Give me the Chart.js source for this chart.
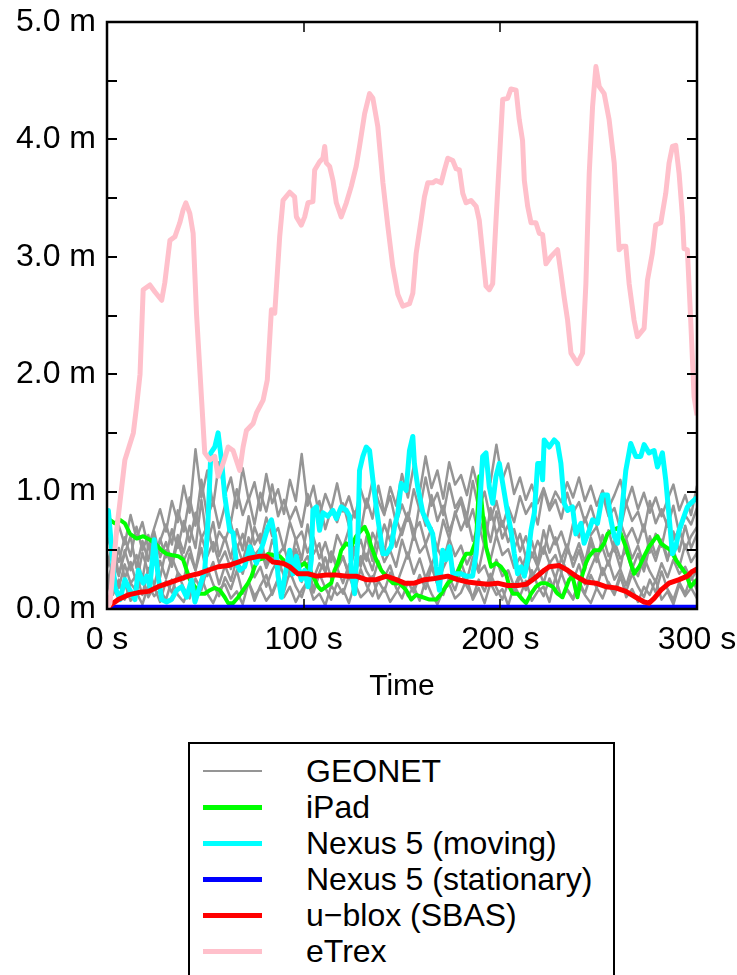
<!DOCTYPE html>
<html>
<head>
<meta charset="utf-8">
<script src="https://cdn.jsdelivr.net/npm/chart.js@4.4.1/dist/chart.umd.min.js"></script>
<style>
  html, body { margin: 0; padding: 0; background: #fff; overflow: hidden; }
  body { width: 737px; height: 975px; position: relative; font-family: "Liberation Sans", Arial, sans-serif; }
  #chart { display: block; }
  #legend { position: absolute; left: 188px; top: 742px; width: 427px; height: 260px; border: 2px solid #000; box-sizing: border-box; }
  .item { position: absolute; left: 0; width: 100%; height: 36px; }
  .item .swatch { position: absolute; left: 13px; width: 59px; }
  .item span { position: absolute; left: 116px; top: 0; line-height: 36px; font-size: 32px; color: #000; white-space: nowrap; }
</style>
</head>
<body>
<canvas id="chart" width="737" height="720"></canvas>
<div id="legend"></div>
<script>
// tick values
const xTickMarks = [100, 200];
const yTickMarks = [0.5, 1, 1.5, 2, 2.5, 3, 3.5, 4, 4.5];

// legend entries
const legendNames = ['GEONET', 'iPad', 'Nexus 5 (moving)', 'Nexus 5 (stationary)', 'u\u2212blox (SBAS)', 'eTrex'];
const legendColors = ['#959595', '#00ff00', '#00ffff', '#0000ff', '#ff0000', '#ffc0cb'];
const legendWidths = [2, 5, 5, 5, 5, 5];

// GEONET stations, one sample every 3 s
const geonetTime = [
  0, 3, 6, 9, 12, 15, 18, 21, 24, 27,
  30, 33, 36, 39, 42, 45, 48, 51, 54, 57,
  60, 63, 66, 69, 72, 75, 78, 81, 84, 87,
  90, 93, 96, 99, 102, 105, 108, 111, 114, 117,
  120, 123, 126, 129, 132, 135, 138, 141, 144, 147,
  150, 153, 156, 159, 162, 165, 168, 171, 174, 177,
  180, 183, 186, 189, 192, 195, 198, 201, 204, 207,
  210, 213, 216, 219, 222, 225, 228, 231, 234, 237,
  240, 243, 246, 249, 252, 255, 258, 261, 264, 267,
  270, 273, 276, 279, 282, 285, 288, 291, 294, 297,
  300];
const geonet1 = [
  0.62, 0.48, 0.71, 0.55, 0.80, 0.60, 0.74, 0.52, 0.69, 0.85,
  0.66, 0.92, 0.74, 1.05, 0.82, 1.36, 0.95, 1.18, 0.88, 1.25,
  0.97, 1.12, 0.86, 1.20, 0.93, 1.08, 0.84, 1.15, 0.90, 1.02,
  0.81, 1.10, 0.92, 1.32, 0.88, 1.05, 0.79, 0.98, 0.85, 1.07,
  0.83, 0.96, 0.78, 1.02, 0.86, 1.09, 0.92, 0.80, 1.04, 0.88,
  1.15, 0.95, 1.22, 0.99, 1.30, 1.03, 1.18, 0.94, 1.25, 1.06,
  1.14, 0.97, 1.21, 1.01, 1.28, 1.08, 1.40, 1.10, 1.24, 0.98,
  1.12, 0.93, 1.06, 0.90, 1.03, 0.87, 1.00, 0.91, 1.08, 0.95,
  1.12, 0.92, 1.05, 0.88, 1.01, 0.86, 0.97, 1.10, 0.89, 1.04,
  0.85, 0.99, 0.82, 0.95, 0.79, 0.93, 1.06, 0.84, 0.97, 0.80,
  1.05];
const geonet2 = [
  0.35, 0.52, 0.40, 0.61, 0.45, 0.70, 0.50, 0.63, 0.42, 0.58,
  0.72, 0.55, 0.84, 0.66, 0.95, 0.71, 1.10, 0.78, 0.92, 0.69,
  0.88, 0.74, 1.02, 0.80, 0.95, 0.72, 0.99, 0.83, 1.06, 0.79,
  0.93, 0.76, 0.87, 0.70, 0.98, 0.81, 0.92, 0.68, 0.85, 0.74,
  0.90, 0.71, 0.83, 0.66, 0.94, 0.77, 1.05, 0.82, 0.96, 0.73,
  0.89, 0.75, 1.02, 0.84, 1.12, 0.88, 0.99, 0.80, 1.07, 0.86,
  0.95, 0.78, 1.09, 0.85, 1.00, 0.76, 0.92, 0.70, 0.87, 0.74,
  0.96, 0.81, 0.90, 0.72, 1.02, 0.84, 0.93, 0.77, 0.99, 0.82,
  0.91, 0.74, 0.88, 0.71, 0.97, 0.79, 0.86, 0.68, 0.90, 0.75,
  0.83, 0.66, 0.92, 0.73, 0.85, 0.70, 0.88, 0.64, 0.80, 0.72,
  0.86];
const geonet3 = [
  0.20, 0.42, 0.28, 0.50, 0.33, 0.46, 0.25, 0.55, 0.38, 0.60,
  0.44, 0.68, 0.52, 0.75, 0.57, 0.82, 0.60, 0.71, 0.49, 0.66,
  0.58, 0.73, 0.51, 0.64, 0.45, 0.70, 0.56, 0.78, 0.62, 0.69,
  0.50, 0.74, 0.59, 0.66, 0.48, 0.61, 0.43, 0.57, 0.40, 0.63,
  0.52, 0.68, 0.46, 0.59, 0.41, 0.65, 0.54, 0.72, 0.58, 0.77,
  0.63, 0.81, 0.66, 0.74, 0.55, 0.69, 0.51, 0.76, 0.60, 0.83,
  0.67, 0.79, 0.58, 0.72, 0.53, 0.86, 0.64, 0.75, 0.57, 0.68,
  0.49, 0.62, 0.44, 0.58, 0.47, 0.71, 0.55, 0.66, 0.50, 0.73,
  0.61, 0.78, 0.63, 0.70, 0.52, 0.67, 0.49, 0.74, 0.60, 0.69,
  0.56, 0.72, 0.48, 0.64, 0.53, 0.76, 0.59, 0.68, 0.51, 0.62,
  0.70];
const geonet4 = [
  0.45, 0.30, 0.52, 0.26, 0.40, 0.22, 0.48, 0.31, 0.44, 0.27,
  0.50, 0.36, 0.58, 0.41, 0.53, 0.33, 0.62, 0.45, 0.57, 0.39,
  0.49, 0.34, 0.55, 0.40, 0.61, 0.46, 0.52, 0.35, 0.47, 0.30,
  0.42, 0.28, 0.51, 0.37, 0.45, 0.26, 0.39, 0.32, 0.48, 0.34,
  0.44, 0.29, 0.53, 0.38, 0.47, 0.33, 0.56, 0.40, 0.50, 0.36,
  0.59, 0.43, 0.64, 0.48, 0.55, 0.37, 0.52, 0.41, 0.60, 0.45,
  0.54, 0.38, 0.49, 0.33, 0.57, 0.42, 0.63, 0.46, 0.51, 0.35,
  0.44, 0.30, 0.48, 0.36, 0.53, 0.39, 0.46, 0.31, 0.50, 0.42,
  0.56, 0.40, 0.61, 0.45, 0.52, 0.37, 0.58, 0.43, 0.49, 0.34,
  0.47, 0.32, 0.54, 0.41, 0.59, 0.44, 0.50, 0.36, 0.55, 0.40,
  0.48];
const geonet5 = [
  0.15, 0.32, 0.18, 0.38, 0.22, 0.29, 0.12, 0.35, 0.20, 0.41,
  0.26, 0.44, 0.31, 0.25, 0.47, 0.33, 0.52, 0.28, 0.40, 0.21,
  0.37, 0.24, 0.43, 0.30, 0.49, 0.27, 0.36, 0.19, 0.33, 0.42,
  0.28, 0.46, 0.34, 0.23, 0.39, 0.17, 0.31, 0.44, 0.26, 0.35,
  0.22, 0.38, 0.29, 0.45, 0.32, 0.24, 0.41, 0.27, 0.37, 0.20,
  0.34, 0.48, 0.30, 0.43, 0.26, 0.39, 0.21, 0.35, 0.46, 0.29,
  0.40, 0.25, 0.44, 0.31, 0.37, 0.23, 0.42, 0.28, 0.33, 0.19,
  0.30, 0.45, 0.27, 0.36, 0.22, 0.40, 0.26, 0.43, 0.32, 0.24,
  0.38, 0.21, 0.35, 0.47, 0.29, 0.41, 0.25, 0.34, 0.20, 0.37,
  0.28, 0.44, 0.32, 0.23, 0.39, 0.27, 0.42, 0.30, 0.36, 0.25,
  0.33];
const geonet6 = [
  0.30, 0.12, 0.25, 0.08, 0.22, 0.15, 0.28, 0.10, 0.19, 0.06,
  0.24, 0.14, 0.31, 0.18, 0.09, 0.26, 0.16, 0.35, 0.21, 0.11,
  0.27, 0.17, 0.33, 0.13, 0.23, 0.07, 0.20, 0.29, 0.12, 0.25,
  0.15, 0.32, 0.19, 0.10, 0.26, 0.14, 0.30, 0.18, 0.08, 0.22,
  0.13, 0.28, 0.16, 0.34, 0.20, 0.11, 0.24, 0.15, 0.31, 0.18,
  0.09, 0.23, 0.14, 0.29, 0.17, 0.36, 0.21, 0.12, 0.27, 0.16,
  0.32, 0.19, 0.10, 0.25, 0.15, 0.30, 0.18, 0.08, 0.22, 0.13,
  0.28, 0.16, 0.33, 0.20, 0.11, 0.26, 0.14, 0.31, 0.17, 0.09,
  0.24, 0.13, 0.29, 0.18, 0.35, 0.21, 0.12, 0.27, 0.15, 0.30,
  0.19, 0.10, 0.25, 0.14, 0.32, 0.17, 0.08, 0.23, 0.13, 0.28,
  0.16];
const geonet7 = [
  0.05, 0.18, 0.09, 0.22, 0.07, 0.14, 0.04, 0.20, 0.11, 0.16,
  0.08, 0.25, 0.12, 0.06, 0.19, 0.10, 0.27, 0.13, 0.05, 0.17,
  0.21, 0.09, 0.15, 0.04, 0.23, 0.11, 0.18, 0.07, 0.14, 0.26,
  0.10, 0.19, 0.06, 0.16, 0.24, 0.08, 0.13, 0.03, 0.20, 0.12,
  0.17, 0.05, 0.22, 0.10, 0.15, 0.28, 0.09, 0.18, 0.06, 0.14,
  0.23, 0.11, 0.19, 0.07, 0.25, 0.13, 0.04, 0.16, 0.21, 0.09,
  0.14, 0.26, 0.08, 0.18, 0.05, 0.22, 0.12, 0.17, 0.03, 0.20,
  0.11, 0.24, 0.07, 0.15, 0.19, 0.06, 0.27, 0.10, 0.16, 0.08,
  0.21, 0.12, 0.05, 0.18, 0.09, 0.23, 0.14, 0.30, 0.10, 0.17,
  0.06, 0.19, 0.12, 0.25, 0.08, 0.15, 0.04, 0.21, 0.11, 0.18,
  0.09];
const geonet8 = [
  0.38, 0.55, 0.30, 0.47, 0.62, 0.35, 0.58, 0.41, 0.66, 0.44,
  0.57, 0.39, 0.63, 0.48, 0.71, 0.52, 0.93, 0.56, 0.74, 0.45,
  0.61, 0.43, 0.68, 0.50, 0.79, 0.55, 0.64, 0.37, 0.59, 0.46,
  0.53, 0.34, 0.60, 0.42, 0.72, 0.47, 0.56, 0.31, 0.49, 0.38,
  0.45, 0.29, 0.52, 0.36, 0.62, 0.41, 0.70, 0.48, 0.76, 0.53,
  0.68, 0.82, 0.59, 0.90, 0.71, 0.97, 0.75, 0.88, 0.66, 0.80,
  0.92, 0.70, 0.85, 0.63, 0.78, 0.57, 0.83, 0.60, 0.72, 0.51,
  0.64, 0.44, 0.58, 0.39, 0.67, 0.48, 0.61, 0.42, 0.55, 0.36,
  0.50, 0.33, 0.57, 0.40, 0.63, 0.45, 0.52, 0.35, 0.60, 0.43,
  0.54, 0.37, 0.62, 0.46, 0.58, 0.41, 0.66, 0.49, 0.71, 0.52,
  0.64];
const geonetSeries = [geonet1, geonet2, geonet3, geonet4, geonet5, geonet6, geonet7, geonet8];

// iPad
const ipadTime = [0, 1.5, 4, 6.6, 9.1, 11.7, 15.1, 18.4, 21.8, 24.4, 27.8, 30.3, 32.8, 36.2, 38.7, 40.5, 42.1, 44.7, 47.2, 49.7,
  52.3, 54.8, 57.4, 59.9, 61.6, 64.1, 66.7, 69.2, 71.7, 73.5, 75.1, 76.8, 79.4, 82, 84.4, 87.8, 89.5, 92, 94.6, 98,
  100.5, 103, 105.6, 107.3, 109, 111.5, 114, 115.7, 117.4, 119.1, 121.7, 124.2, 126.7, 129.3, 131, 132.6, 134.4, 136.9, 139.4, 142,
  145.3, 148.7, 152.1, 154.7, 157.2, 160.6, 164, 167.4, 169.9, 173.3, 177.5, 180.9, 182.6, 185.1, 187.7, 189.3, 191, 192.7, 195.3, 197.8,
  200.3, 202.9, 204.6, 206.3, 208.8, 211.3, 213.1, 215.6, 218.1, 220.7, 223.2, 226.6, 229.1, 231.6, 235, 236.7, 239.2, 241, 243.5, 245.2,
  247.7, 250.3, 252.8, 254.5, 257, 259.5, 261.3, 263.8, 266.3, 268, 270.6, 273.1, 275.6, 278.2, 279.9, 281.6, 284.1, 286.7, 289.2, 291.7,
  294.3, 296.8, 300];
const ipadValue = [0.78, 0.76, 0.73, 0.76, 0.73, 0.64, 0.60, 0.62, 0.59, 0.56, 0.50, 0.47, 0.46, 0.45, 0.42, 0.33, 0.25, 0.19, 0.13, 0.13,
  0.16, 0.18, 0.16, 0.10, 0.05, 0.05, 0.10, 0.16, 0.22, 0.28, 0.36, 0.42, 0.43, 0.47, 0.46, 0.45, 0.42, 0.36, 0.33, 0.36,
  0.39, 0.33, 0.25, 0.19, 0.16, 0.19, 0.22, 0.33, 0.39, 0.50, 0.56, 0.53, 0.62, 0.67, 0.70, 0.64, 0.53, 0.42, 0.33, 0.28,
  0.22, 0.22, 0.16, 0.08, 0.12, 0.10, 0.08, 0.08, 0.13, 0.22, 0.28, 0.42, 0.47, 0.47, 0.59, 1.13, 0.82, 0.53, 0.36, 0.39,
  0.36, 0.30, 0.19, 0.13, 0.13, 0.08, 0.05, 0.13, 0.19, 0.22, 0.22, 0.19, 0.13, 0.10, 0.25, 0.28, 0.10, 0.25, 0.39, 0.45,
  0.50, 0.50, 0.56, 0.64, 0.67, 0.69, 0.64, 0.53, 0.39, 0.30, 0.36, 0.45, 0.53, 0.59, 0.62, 0.56, 0.53, 0.50, 0.42, 0.36,
  0.30, 0.19, 0.25];

// Nexus 5 (moving)
const nexusMovingTime = [0, 0.7, 4, 6.6, 9.1, 11.7, 14.2, 15.9, 18.4, 20.2, 21.8, 24, 26, 27.8, 30.3, 32.8, 35.4, 37.9, 40.5, 43,
  44.7, 47.2, 49.7, 51.4, 52.8, 54.8, 56.5, 58.2, 59.9, 62.4, 64.1, 65.8, 67.5, 70, 72.6, 76, 79.4, 81.9, 83.6, 85.3,
  87, 88.7, 90.4, 92.9, 94.6, 96.3, 98.8, 100.5, 102.2, 103.9, 104.7, 106.5, 108.1, 109.8, 112.3, 114.9, 116.6, 119.1, 121.7, 123.4,
  124.2, 125.9, 127.6, 128.4, 130.1, 131.8, 133.5, 135.2, 136.9, 138.6, 140.3, 142, 144.5, 146.2, 147.9, 149.6, 152.1, 153.8, 155.5, 156.3,
  158, 160.6, 163.1, 165.6, 167.4, 169, 170.7, 172.4, 174.1, 175.8, 177.5, 180, 182.6, 185.9, 187.7, 189.3, 191, 192.7, 194.4, 196.1,
  197.8, 199.5, 201.2, 203.7, 205.4, 207.1, 208.8, 210.5, 212.2, 213.9, 215.6, 217.3, 219, 220.7, 221.5, 222.3, 224.9, 227.4, 229.1, 230.8,
  232.5, 234.2, 236.7, 238.4, 241, 242.6, 245.2, 246.9, 249.4, 251.9, 254.5, 256.2, 257.9, 259.6, 261.3, 263.8, 266.3, 268.9, 271.4, 273.1,
  275.6, 278.2, 279.9, 282.4, 284.1, 285.8, 287.5, 289.2, 290.9, 293.4, 295.1, 296.8, 300];
const nexusMovingValue = [0.84, 0.84, 0.19, 0.08, 0.25, 0.16, 0.08, 0.33, 0.22, 0.28, 0.19, 0.59, 0.28, 0.08, 0.06, 0.08, 0.16, 0.19, 0.10, 0.25,
  0.06, 0.19, 0.33, 0.76, 1.33, 1.38, 1.50, 1.27, 0.96, 0.67, 0.65, 0.39, 0.33, 0.36, 0.53, 0.39, 0.56, 0.70, 0.76, 0.62,
  0.28, 0.10, 0.28, 0.50, 0.30, 0.45, 0.25, 0.33, 0.19, 0.42, 0.84, 0.87, 0.67, 0.82, 0.79, 0.84, 0.77, 0.87, 0.84, 0.79,
  0.33, 0.13, 0.62, 1.18, 1.30, 1.38, 1.35, 1.10, 0.87, 0.67, 0.47, 0.47, 0.53, 0.70, 0.82, 1.07, 1.01, 1.35, 1.47, 1.24,
  1.04, 0.82, 0.73, 0.64, 0.36, 0.16, 0.50, 0.42, 0.53, 0.30, 0.30, 0.30, 0.28, 0.28, 0.47, 0.82, 1.30, 1.33, 1.04, 0.90,
  1.13, 1.24, 1.07, 0.82, 0.67, 0.47, 0.30, 0.36, 0.28, 0.42, 0.67, 0.82, 1.24, 1.24, 1.10, 1.44, 1.38, 1.44, 1.41, 1.24,
  0.90, 0.84, 0.87, 0.64, 0.73, 0.56, 0.67, 0.76, 0.73, 0.97, 0.97, 0.76, 0.62, 0.56, 0.76, 1.18, 1.41, 1.30, 1.30, 1.40,
  1.33, 1.35, 1.21, 1.33, 1.10, 0.79, 0.47, 0.53, 0.67, 0.79, 0.87, 0.90, 0.95];

// Nexus 5 (stationary)
const nexusStillTime = [0, 50, 100, 150, 200, 250, 300];
const nexusStillValue = [0.02, 0.02, 0.02, 0.02, 0.02, 0.02, 0.02];

// u-blox (SBAS)
const ubloxTime = [0, 1.5, 5.7, 10.8, 15.9, 21, 26, 31.1, 36.2, 41.3, 46.3, 51.4, 56.5, 61.6, 66.7, 71.7, 77.7, 81, 84.4, 89.5,
  92.9, 97.1, 102.2, 106.5, 111.5, 116.6, 121.7, 126.7, 131.8, 136.9, 142, 147.1, 151.3, 156.3, 161.4, 166.5, 173.3, 178.3, 183.4, 188.5,
  193.6, 198.6, 203.7, 208.8, 213.1, 217.3, 222.3, 224.9, 230, 234.2, 238.4, 243.5, 248.6, 253.6, 258.7, 263.8, 268.9, 273.1, 275.6, 278.2,
  281.6, 285.8, 290.9, 295.1, 297.6, 300];
const ubloxValue = [0.00, 0.03, 0.08, 0.12, 0.14, 0.15, 0.19, 0.22, 0.25, 0.28, 0.30, 0.33, 0.36, 0.37, 0.40, 0.43, 0.45, 0.45, 0.40, 0.39,
  0.36, 0.30, 0.30, 0.28, 0.29, 0.29, 0.28, 0.28, 0.25, 0.25, 0.28, 0.25, 0.22, 0.22, 0.25, 0.26, 0.28, 0.25, 0.23, 0.22,
  0.21, 0.22, 0.20, 0.20, 0.21, 0.26, 0.33, 0.36, 0.37, 0.33, 0.28, 0.23, 0.22, 0.19, 0.18, 0.15, 0.10, 0.06, 0.05, 0.09,
  0.16, 0.22, 0.25, 0.28, 0.32, 0.34];

// eTrex
const etrexTime = [0, 1.5, 4.9, 9.1, 13.4, 15, 16.8, 18.4, 21.8, 24.4, 27.8, 29.4, 32, 34.5, 37, 38.7, 40.1, 42.1, 43.8, 45.5,
  48, 49.7, 52.3, 54.8, 56.5, 59, 61.6, 64.1, 67.5, 69.2, 70.9, 74.3, 76, 79.4, 81.5, 83.6, 85.3, 87.8, 89.5, 92.9,
  95.4, 96.3, 98.8, 100.5, 102.2, 104.7, 105.6, 108.1, 109.8, 110.7, 111.5, 113.2, 114.9, 116.6, 119.1, 121.7, 124.2, 126.7, 128.4, 131,
  133.5, 135.2, 137.7, 140.3, 142.8, 145.3, 147.9, 150.4, 153.8, 155.5, 157.2, 159.7, 161.4, 163.1, 165.6, 167.3, 169.9, 171.6, 173.3, 175.8,
  177.5, 179.2, 180.9, 182.6, 185.1, 187.7, 189.3, 191, 192.7, 194.4, 196.1, 197.8, 199.5, 201.2, 203.7, 205.4, 208, 209.6, 211.3, 212.2,
  213.9, 215.6, 218.1, 219.8, 221.5, 223.2, 225.7, 229.1, 230.8, 232.5, 234.2, 235.9, 239.2, 241.8, 243.5, 245.2, 246.9, 248.6, 250.3, 252.8,
  255.3, 257.9, 260.4, 262.1, 263.8, 265.5, 268, 269.7, 273.1, 274.8, 277.3, 279, 281.6, 284.1, 285.8, 287.5, 289.2, 290.9, 292.6, 293.4,
  295.1, 296.8, 298.5, 300];
const etrexValue = [0.00, 0.05, 0.67, 1.27, 1.50, 1.72, 2.00, 2.72, 2.76, 2.70, 2.63, 2.78, 3.14, 3.17, 3.29, 3.40, 3.46, 3.37, 3.20, 2.52,
  1.81, 1.33, 1.27, 1.30, 1.13, 1.24, 1.38, 1.35, 1.18, 1.38, 1.52, 1.58, 1.67, 1.78, 1.95, 2.55, 2.52, 3.17, 3.48, 3.55,
  3.51, 3.34, 3.27, 3.34, 3.46, 3.47, 3.74, 3.81, 3.84, 3.94, 3.80, 3.77, 3.65, 3.46, 3.34, 3.46, 3.60, 3.77, 3.94, 4.22,
  4.39, 4.35, 4.11, 3.63, 3.26, 2.92, 2.68, 2.58, 2.60, 2.69, 3.03, 3.31, 3.51, 3.63, 3.63, 3.65, 3.63, 3.74, 3.84, 3.82,
  3.75, 3.74, 3.54, 3.46, 3.48, 3.43, 3.31, 3.03, 2.75, 2.72, 2.77, 3.31, 3.82, 4.34, 4.35, 4.43, 4.42, 4.17, 3.99, 3.65,
  3.43, 3.29, 3.29, 3.20, 3.19, 2.94, 3.00, 3.06, 2.86, 2.65, 2.46, 2.18, 2.09, 2.18, 2.77, 3.71, 4.28, 4.62, 4.45, 4.39,
  4.17, 3.80, 3.06, 3.09, 3.09, 2.77, 2.46, 2.32, 2.39, 2.80, 3.03, 3.27, 3.29, 3.54, 3.80, 3.94, 3.95, 3.71, 3.34, 3.07,
  3.06, 2.46, 1.81, 1.65];

const FONT = '"Liberation Sans", Arial, Helvetica, sans-serif';

function toPoints(times, values) {
  return times.map((t, i) => ({ x: t, y: values[i] }));
}

function lineSet(label, times, values, color, width, order) {
  return {
    label: label,
    data: toPoints(times, values),
    borderColor: color,
    backgroundColor: color,
    borderWidth: width,
    pointRadius: 0,
    tension: 0,
    fill: false,
    borderJoinStyle: 'round',
    order: order
  };
}

const datasets = [];
geonetSeries.forEach(vals => datasets.push(lineSet('GEONET', geonetTime, vals, legendColors[0], 2.5, 6)));
datasets.push(lineSet(legendNames[1], ipadTime, ipadValue, legendColors[1], 4, 5));
datasets.push(lineSet(legendNames[2], nexusMovingTime, nexusMovingValue, legendColors[2], 5, 4));
datasets.push(lineSet(legendNames[3], nexusStillTime, nexusStillValue, legendColors[3], 4, 3));
datasets.push(lineSet(legendNames[4], ubloxTime, ubloxValue, legendColors[4], 5, 2));
datasets.push(lineSet(legendNames[5], etrexTime, etrexValue, legendColors[5], 5, 1));

// frame with inward tick marks on all four sides
const frameMarks = {
  id: 'frameMarks',
  afterDatasetsDraw(chart) {
    const ctx = chart.ctx;
    const a = chart.chartArea;
    const x = chart.scales.x, y = chart.scales.y;
    ctx.save();
    ctx.strokeStyle = '#000';
    ctx.lineWidth = 2;
    ctx.beginPath();
    yTickMarks.forEach(v => {
      const py = Math.round(y.getPixelForValue(v));
      ctx.moveTo(a.left, py); ctx.lineTo(a.left + 10, py);
      ctx.moveTo(a.right - 10, py); ctx.lineTo(a.right, py);
    });
    ctx.stroke();
    ctx.lineWidth = 1.5;
    ctx.beginPath();
    xTickMarks.forEach(v => {
      const px = Math.round(x.getPixelForValue(v));
      ctx.moveTo(px, a.top); ctx.lineTo(px, a.top + 10);
      ctx.moveTo(px, a.bottom); ctx.lineTo(px, a.bottom - 10);
    });
    ctx.stroke();
    ctx.lineWidth = 2.5;
    ctx.strokeRect(a.left, a.top, a.right - a.left, a.bottom - a.top);
    ctx.restore();
  }
};

const chart = new Chart(document.getElementById('chart'), {
  type: 'line',
  data: { datasets: datasets },
  options: {
    responsive: false,
    animation: false,
    layout: { padding: { top: 22, right: 40, bottom: 15, left: 0 } },
    plugins: { legend: { display: false }, tooltip: { enabled: false } },
    scales: {
      x: {
        type: 'linear',
        min: 0,
        max: 300,
        ticks: { stepSize: 100, maxRotation: 0, padding: 12, color: '#000', font: { family: FONT, size: 32 },
                 callback: v => v + ' s' },
        grid: { display: false, drawTicks: false },
        border: { display: false },
        title: { display: true, text: 'Time', color: '#000', font: { family: FONT, size: 30 }, padding: 0 },
        afterFit: s => { s.height = 96; s.paddingLeft = 0; s.paddingRight = 0; }
      },
      y: {
        min: 0,
        max: 5,
        ticks: { stepSize: 1, padding: 11, color: '#000', font: { family: FONT, size: 32 },
                 callback: v => v.toFixed(1) + ' m' },
        grid: { display: false, drawTicks: false },
        border: { display: false },
        afterFit: s => { s.width = 107; s.paddingTop = 0; s.paddingBottom = 0; }
      }
    }
  },
  plugins: [frameMarks]
});

// legend box, one entry per instrument
const legendBox = document.getElementById('legend');
legendNames.forEach((name, i) => {
  const item = document.createElement('div');
  item.className = 'item';
  item.style.top = (9 + i * 36) + 'px';
  const sw = document.createElement('div');
  sw.className = 'swatch';
  sw.style.height = legendWidths[i] + 'px';
  sw.style.top = (18 - legendWidths[i] / 2) + 'px';
  sw.style.background = legendColors[i];
  const label = document.createElement('span');
  label.textContent = name;
  item.appendChild(sw);
  item.appendChild(label);
  legendBox.appendChild(item);
});
</script>
</body>
</html>
